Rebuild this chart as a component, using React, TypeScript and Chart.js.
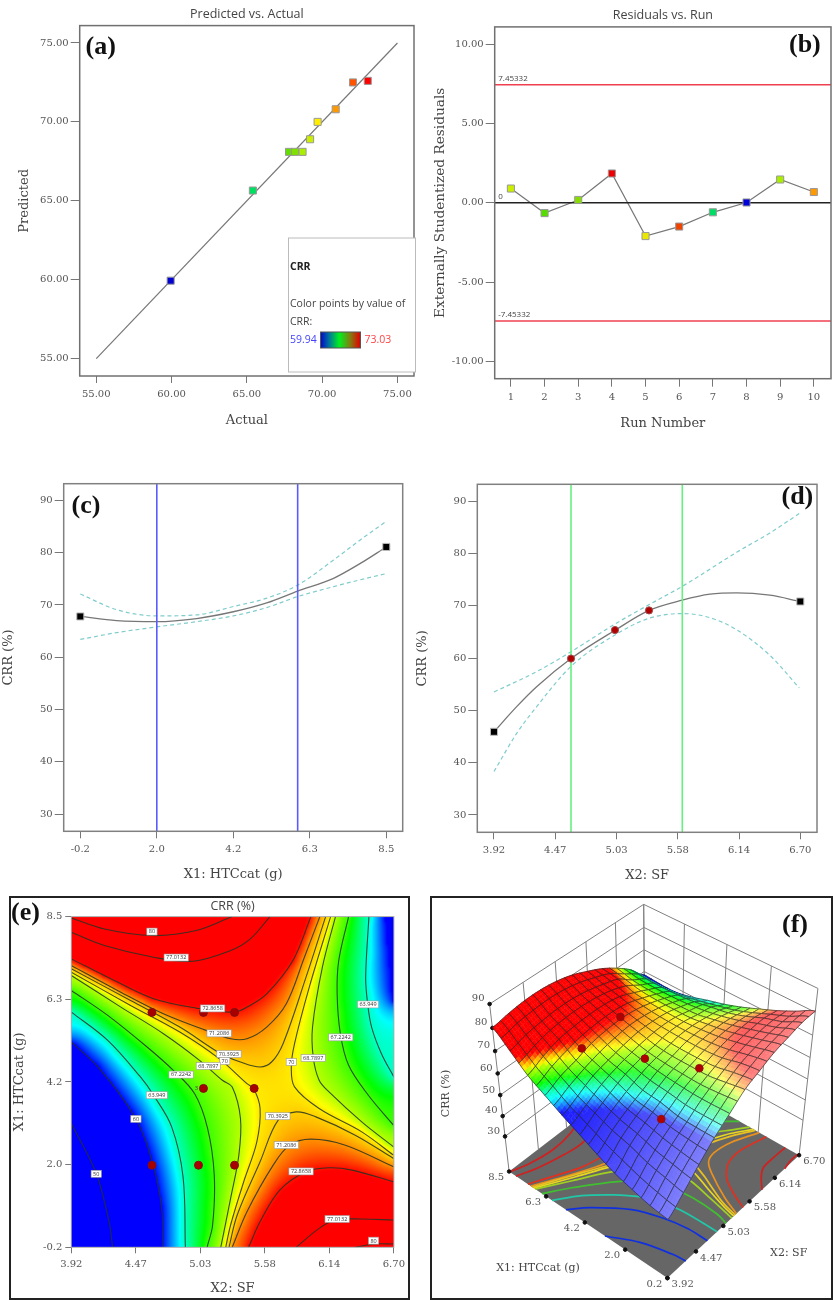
import React, { useEffect, useRef } from "react";
import { Chart, registerables } from "chart.js";
Chart.register(...registerables);

// ---------- data ----------
const actual = [59.94, 65.4, 67.8, 68.2, 68.7, 69.2, 69.7, 70.9, 72.05, 73.03];
const predicted = [59.94, 65.65, 68.1, 68.1, 68.1, 68.9, 70.0, 70.8, 72.5, 72.6];
const actualColors = ["#0000d0", "#00e060", "#66dd00", "#80e000", "#aaee00", "#ccee00", "#ffee00", "#ff9900", "#ff5500", "#ff0000"];
const parityLine = [55, 75];
const parityTicks = [55, 60, 65, 70, 75];

const runs = [1, 2, 3, 4, 5, 6, 7, 8, 9, 10];
const residuals = [0.9, -0.65, 0.18, 1.85, -2.1, -1.5, -0.6, 0.02, 1.47, 0.68];
const residualColors = ["#ccee00", "#55dd00", "#88dd00", "#ee0000", "#e8e800", "#ee4400", "#00dd66", "#0000d8", "#aaee00", "#ff9900"];
const residualTicks = [-10, -5, 0, 5, 10];
const residualLimit = 7.45332;

const x1Ticks = [-0.2, 1.975, 4.15, 6.325, 8.5];
const x1Labels = ["-0.2", "2.0", "4.2", "6.3", "8.5"];
const x2Ticks = [3.92, 4.476, 5.032, 5.588, 6.144, 6.7];
const x2Labels = ["3.92", "4.47", "5.03", "5.58", "6.14", "6.70"];
const crrTicks = [30, 40, 50, 60, 70, 80, 90];

const cX = [-0.2, 0.83, 1.97, 3.11, 4.15, 5.1, 5.98, 7.0, 7.75, 8.5];
const cMean = [67.8, 67.0, 66.8, 67.4, 68.7, 70.4, 72.65, 75.1, 77.9, 81.1];
const cUpper = [72.1, 69.1, 67.9, 68.1, 69.7, 71.3, 73.8, 78.6, 82.4, 86.0];
const cLower = [63.4, 64.7, 65.8, 66.8, 67.9, 69.5, 71.6, 73.5, 74.8, 76.0];
const cBounds = [1.975, 5.98];

const dMeanX = [3.92, 4.126, 4.307, 4.619, 5.018, 5.327, 5.629, 5.88, 6.122, 6.424, 6.7];
const dMean = [45.9, 50.7, 54.5, 59.9, 65.3, 69.1, 71.06, 72.2, 72.46, 72.0, 70.8];
const dUpperX = [3.92, 4.307, 4.619, 5.018, 5.327, 5.629, 6.122, 6.424, 6.69];
const dUpper = [53.5, 57.4, 61.2, 66.5, 70.2, 73.7, 80.2, 83.9, 87.6];
const dLowerX = [3.92, 4.126, 4.307, 4.619, 5.018, 5.327, 5.629, 5.88, 6.122, 6.424, 6.69];
const dLower = [38.3, 45.6, 50.7, 58.4, 64.4, 67.6, 68.5, 67.7, 65.4, 60.5, 54.3];
const dBounds = [4.619, 5.629];
const dPointsX = [4.619, 5.018, 5.327];
const dPointsY = [59.9, 65.35, 69.1];

// CRR height of the surface: rows from X1 = 8.5 down to -0.2, columns from X2 = 3.92 to 6.70
const crrGrid = [
  [80.1, 81.5, 82.4, 82.5, 81.7, 80, 77.3, 74.2, 70.1, 65.1, 58.5],
  [74.3, 76.4, 77.5, 78.2, 78.1, 77.1, 75.4, 73.2, 68.5, 64.6, 58],
  [68, 71.2, 73.7, 74.7, 75.1, 74.9, 73.7, 71, 67.9, 64.5, 58],
  [63.5, 66.8, 68.8, 71.2, 72.25, 72.65, 71.9, 70.2, 67.8, 64.8, 59.5],
  [59.1, 62.5, 66.2, 68.1, 69.7, 70.8, 70.75, 69.9, 68, 65.6, 61.8],
  [55.1, 59.4, 63.1, 66.2, 68, 69.15, 70.25, 69.9, 68.4, 67.1, 63.9],
  [51, 56.3, 60.4, 63.6, 66.9, 68.45, 70.15, 70.45, 70, 68.5, 66.5],
  [47.3, 54.2, 58.9, 62.8, 66.2, 68.45, 70.35, 71.45, 71.65, 70.95, 69.6],
  [44.8, 51.3, 56.9, 61.2, 65.7, 68.6, 71.2, 73.1, 73.9, 74.1, 72.8],
  [42.6, 49.5, 55.6, 60.9, 65.8, 69.9, 73.2, 75.1, 76.3, 76.6, 76.5],
  [41.5, 47.8, 54.7, 61, 66.2, 71.3, 74.3, 77.1, 78.7, 80.2, 80.5],
];

// contour lines: one level, one X2 list and one X1 list per line
const contourLevel = [50, 60, 63.949, 67.2242, 68.7897, 70, 70, 70.3925, 70.3925, 71.2086, 71.2086, 72.8658, 72.8658, 77.0132, 77.0132, 80, 80, 67.2242, 68.7897, 63.949];
const contourX2 = [
  [3.92, 4.135, 4.248, 4.276],
  [3.92, 4.149, 4.477, 4.629, 4.7, 4.705],
  [3.92, 4.234, 4.516, 4.629, 4.785, 4.883, 4.903],
  [3.92, 4.234, 4.573, 4.799, 4.982, 5.095, 5.152, 5.138, 5.09],
  [3.92, 4.347, 4.714, 5.025, 5.222, 5.307, 5.378, 5.364, 5.293, 5.208],
  [3.92, 4.431, 4.855, 5.194, 5.434, 5.491, 5.547, 5.519, 5.406, 5.293, 5.251],
  [6.155, 5.971, 5.844, 5.816, 5.844, 6.056, 6.423, 6.697],
  [3.92, 4.431, 4.855, 5.208, 5.378, 5.547, 5.646, 5.745, 5.943, 6.112],
  [6.697, 6.367, 6.028, 5.858, 5.703, 5.547, 5.35, 5.279],
  [3.92, 4.318, 4.714, 5.081, 5.293, 5.434, 5.604, 5.773, 5.929, 6.062],
  [6.697, 6.282, 5.985, 5.802, 5.66, 5.434, 5.307],
  [3.92, 4.29, 4.629, 4.996, 5.321, 5.434, 5.604, 5.83, 5.985],
  [6.697, 6.338, 6.141, 5.943, 5.717, 5.547, 5.448],
  [3.92, 4.205, 4.629, 4.968, 5.293, 5.463, 5.632],
  [5.858, 6.056, 6.197, 6.423, 6.697],
  [3.92, 4.205, 4.615, 4.996, 5.307],
  [6.367, 6.536, 6.697],
  [6.31, 6.225, 6.211, 6.239, 6.31, 6.48, 6.697],
  [6.197, 6.084, 5.999, 6.005, 6.056, 6.141, 6.423, 6.697],
  [6.485, 6.457, 6.474, 6.508, 6.593, 6.7],
];
const contourX1 = [
  [3.056, 1.743, 0.43, -0.2],
  [5.2, 4.544, 3.178, 1.918, 0.78, -0.2],
  [5.988, 5.244, 4.281, 3.8, 2.968, 1.656, -0.2],
  [6.557, 5.901, 5.069, 4.456, 3.844, 2.925, 1.699, 0.387, -0.2],
  [6.951, 6.119, 5.419, 4.719, 4.194, 4.019, 3.187, 2.224, 1.087, -0.2],
  [7.038, 6.163, 5.463, 4.763, 4.106, 3.975, 3.45, 2.575, 1.524, 0.387, -0.2],
  [8.5, 6.645, 5.157, 4.544, 4.019, 3.45, 2.837, 2.224],
  [7.126, 6.294, 5.594, 4.894, 4.675, 4.544, 4.675, 5.157, 6.907, 8.5],
  [2.137, 2.75, 3.231, 3.362, 3.144, 2.049, 0.649, -0.2],
  [7.213, 6.557, 5.944, 5.507, 5.288, 5.288, 5.594, 6.207, 7.432, 8.5],
  [1.918, 2.487, 2.645, 2.487, 1.962, 0.737, -0.2],
  [7.388, 6.819, 6.338, 6.093, 5.988, 6.119, 6.469, 7.345, 8.5],
  [1.524, 1.831, 1.892, 1.787, 1.306, 0.474, -0.2],
  [8.089, 7.739, 7.432, 7.327, 7.607, 7.914, 8.5],
  [-0.2, 0.299, 0.518, 0.544, 0.518],
  [8.465, 8.176, 8.001, 8.132, 8.5],
  [-0.2, -0.112, -0.112],
  [8.5, 7.345, 6.469, 5.419, 4.588, 3.8, 3.012],
  [8.5, 7.17, 5.594, 4.806, 4.194, 3.887, 3.1, 2.443],
  [8.5, 6.907, 6.207, 5.594, 4.894, 4.281],
];
// edge of the blue band at the upper right of panel (e): a colour guide without a drawn line
const guideLevel = [59.9];
const guideX2 = [[6.635, 6.663, 6.697]];
const guideX1 = [[8.5, 7.607, 6.294]];
const floorLevels = [50, 60, 63.949, 67.2242, 68.7897, 70, 70.3925, 71.2086, 72.8658, 77.0132, 80];
const floorLineColors = ["#1030e0", "#1030e0", "#20c8a8", "#40c030", "#a0d020", "#e8d820", "#e8c020", "#e89020", "#e03020", "#d02020", "#d02020"];
const contourLabelText = ["80", "77.0132", "72.8658", "71.2086", "70.3925", "70", "68.7897", "67.2242", "63.949", "60", "50", "63.949", "67.2242", "68.7897", "70", "70.3925", "71.2086", "72.8658", "77.0132", "80"];
const contourLabelX2 = [4.615, 4.824, 5.138, 5.194, 5.279, 5.242, 5.101, 4.866, 4.657, 4.477, 4.135, 6.477, 6.242, 6.005, 5.816, 5.7, 5.773, 5.9, 6.211, 6.525];
const contourLabelX1 = [8.106, 7.423, 6.084, 5.428, 4.885, 4.701, 4.57, 4.343, 3.8, 3.178, 1.734, 6.189, 5.323, 4.78, 4.675, 3.248, 2.487, 1.796, 0.544, -0.025];
const designX2 = [4.615, 5.059, 5.327, 5.059, 5.496, 4.615, 5.016, 5.327];
const designX1 = [5.98, 5.98, 5.98, 3.98, 3.98, 1.96, 1.96, 1.96];

const surfacePointsX2 = [4.62, 5.33, 5.06, 4.62, 5.33];
const surfacePointsX1 = [2, 2, 4, 6, 6];
const surfacePointsZ = [59.94, 69.1, 68.3, 70.9, 72.5];
const surfaceX1Labels = ["0.2", "2.0", "4.2", "6.3", "8.5"];

// ---------- helpers ----------
const SERIF = '"DejaVu Serif"';
const SANS = '"Open Sans"';
const TEXT = "#555";

const colorStops: [number, number[]][] = [
  [59.94, [0, 0, 255]],
  [63.21, [0, 255, 255]],
  [66.48, [0, 255, 0]],
  [69.76, [255, 255, 0]],
  [73.03, [255, 0, 0]],
];
function crrColor(z: number) {
  if (z <= colorStops[0][0]) return colorStops[0][1];
  for (let i = 1; i < colorStops.length; i++) {
    if (z <= colorStops[i][0]) {
      const [a, ca] = colorStops[i - 1];
      const [b, cb] = colorStops[i];
      const t = (z - a) / (b - a);
      return ca.map((c, k) => c + (cb[k] - c) * t);
    }
  }
  return colorStops[colorStops.length - 1][1];
}
const cr = (a: number, b: number, c: number, d: number, t: number) =>
  b + 0.5 * t * (c - a + t * (2 * a - 5 * b + 4 * c - d + t * (3 * (b - c) + d - a)));
function crrAt(x2: number, x1: number) {
  const n = crrGrid.length - 1;
  const cf = Math.min(n - 1e-6, Math.max(0, ((x2 - 3.92) / 2.78) * n));
  const rf = Math.min(n - 1e-6, Math.max(0, ((8.5 - x1) / 8.7) * n));
  const c0 = Math.floor(cf), r0 = Math.floor(rf);
  const cl = (v: number) => Math.max(0, Math.min(n, v));
  const rows = [-1, 0, 1, 2].map((dr) => {
    const row = crrGrid[cl(r0 + dr)];
    return cr(row[cl(c0 - 1)], row[c0], row[c0 + 1], row[cl(c0 + 2)], cf - c0);
  });
  return cr(rows[0], rows[1], rows[2], rows[3], rf - r0);
}
const RN = 160;
let pinned: Float64Array | null = null;
function pinnedField() {
  if (pinned) return pinned;
  const n = RN + 1;
  const f = new Float64Array(n * n);
  const fixed = new Uint8Array(n * n);
  for (let j = 0; j < n; j++) for (let i = 0; i < n; i++) f[j * n + i] = crrAt(3.92 + (2.78 * i) / RN, -0.2 + (8.7 * j) / RN);
  [...contourLevel, ...guideLevel].forEach((level, k) => {
    const xs = k < contourX2.length ? contourX2[k] : guideX2[k - contourX2.length];
    const ys = k < contourX1.length ? contourX1[k] : guideX1[k - contourX1.length];
    for (let s = 0; s + 1 < xs.length; s++) {
      const ax = ((xs[s] - 3.92) / 2.78) * RN, ay = ((ys[s] + 0.2) / 8.7) * RN;
      const bx = ((xs[s + 1] - 3.92) / 2.78) * RN, by = ((ys[s + 1] + 0.2) / 8.7) * RN;
      const steps = Math.ceil(Math.max(Math.abs(bx - ax), Math.abs(by - ay)) * 2) + 1;
      for (let t = 0; t <= steps; t++) {
        const i = Math.round(ax + ((bx - ax) * t) / steps), j = Math.round(ay + ((by - ay) * t) / steps);
        if (i >= 0 && i < n && j >= 0 && j < n) {
          f[j * n + i] = level;
          fixed[j * n + i] = 1;
        }
      }
    }
  });
  for (let it = 0; it < 300; it++) {
    for (let j = 0; j < n; j++) {
      for (let i = 0; i < n; i++) {
        const k = j * n + i;
        if (fixed[k]) continue;
        const l = f[j * n + Math.max(0, i - 1)], r = f[j * n + Math.min(RN, i + 1)];
        const d = f[Math.max(0, j - 1) * n + i], u = f[Math.min(RN, j + 1) * n + i];
        f[k] += 1.7 * ((l + r + d + u) / 4 - f[k]);
      }
    }
  }
  pinned = f;
  return f;
}
function pinnedAt(x2: number, x1: number) {
  const f = pinnedField();
  const n = RN + 1;
  const a = Math.min(RN - 1e-6, Math.max(0, ((x2 - 3.92) / 2.78) * RN));
  const b = Math.min(RN - 1e-6, Math.max(0, ((x1 + 0.2) / 8.7) * RN));
  const i = Math.floor(a), j = Math.floor(b), s = a - i, t = b - j;
  return (
    (f[j * n + i] * (1 - s) + f[j * n + i + 1] * s) * (1 - t) +
    (f[(j + 1) * n + i] * (1 - s) + f[(j + 1) * n + i + 1] * s) * t
  );
}
const zip = (xs: number[], ys: number[]) => xs.map((x, i) => ({ x, y: ys[i] }));

function text(ctx: any, s: string, x: number, y: number, font: string, color: string, align = "left", baseline = "alphabetic") {
  ctx.save();
  ctx.font = font;
  ctx.fillStyle = color;
  ctx.textAlign = align;
  ctx.textBaseline = baseline;
  ctx.fillText(s, x, y);
  ctx.restore();
}
const letter = (ctx: any, s: string, x: number, y: number) => text(ctx, s, x, y, 'bold 26px "Liberation Serif"', "#111");
function frame(chart: any, color: string, lw = 1.5) {
  const { ctx, chartArea: a } = chart;
  ctx.save();
  ctx.strokeStyle = color;
  ctx.lineWidth = lw;
  ctx.strokeRect(a.left, a.top, a.right - a.left, a.bottom - a.top);
  ctx.restore();
}
function axis(horizontal: boolean, o: any) {
  return {
    type: "linear",
    min: o.min,
    max: o.max,
    afterFit: (s: any) => {
      if (horizontal) s.height = o.size;
      else s.width = o.size;
    },
    afterBuildTicks: (s: any) => {
      s.ticks = o.ticks.map((value: number) => ({ value }));
    },
    ticks: {
      autoSkip: false,
      maxRotation: 0,
      minRotation: 0,
      padding: o.pad ?? (horizontal ? 5 : 2),
      color: TEXT,
      font: { family: SERIF, size: 10 },
      callback: (_v: number, i: number) => o.labels[i],
    },
    grid: { drawOnChartArea: false, color: "#777", tickLength: o.tick ?? (horizontal ? 7 : 9), lineWidth: 1 },
    border: { display: false },
    title: {
      display: true,
      text: o.title,
      color: "#444",
      font: { family: SERIF, size: o.titleSize ?? 13 },
      padding: horizontal ? { top: 0, bottom: o.titlePad } : { top: o.titlePad, bottom: 0 },
    },
  };
}
const base = (extra: any) => ({
  responsive: false,
  animation: false,
  events: [],
  ...extra,
  plugins: { legend: { display: false }, tooltip: { enabled: false }, ...(extra.plugins || {}) },
});
const curve = (data: any[], color: string, lw: number, dash: number[] = [], tension = -1) => ({
  type: "scatter",
  data,
  showLine: true,
  borderColor: color,
  borderWidth: lw,
  borderDash: dash,
  pointRadius: 0,
  tension: tension < 0 ? 0.4 : tension,
  cubicInterpolationMode: tension < 0 ? "monotone" : "default",
  order: 2,
});
const marks = (data: any[], color: any, style: string, radius: number, border: any = "#999") => ({
  type: "scatter",
  data,
  showLine: false,
  pointStyle: style,
  pointRadius: radius,
  backgroundColor: color,
  borderColor: border,
  borderWidth: 1,
  order: 1,
});
const topTitle = (s: string, top: number, bottom: number) => ({
  display: true,
  text: s,
  color: "#444",
  fullSize: false,
  font: { family: SANS, size: 12.5, weight: "normal", lineHeight: 1.2 },
  padding: { top, bottom },
});

// ---------- panels ----------
function configA(H: number, W: number) {
  const overlay = {
    id: "overlay",
    afterDraw(chart: any) {
      const { ctx } = chart;
      frame(chart, "#707070");
      ctx.save();
      ctx.fillStyle = "#fff";
      ctx.strokeStyle = "#bbb";
      ctx.fillRect(288.5, 238, 127, 134);
      ctx.strokeRect(288.5, 238, 127, 134);
      const g = ctx.createLinearGradient(320, 0, 360, 0);
      g.addColorStop(0, "#0000d0");
      g.addColorStop(0.22, "#0070a0");
      g.addColorStop(0.48, "#00f020");
      g.addColorStop(0.75, "#808010");
      g.addColorStop(1, "#e00000");
      ctx.fillStyle = g;
      ctx.fillRect(320.5, 332, 40, 16);
      ctx.strokeStyle = "#555";
      ctx.strokeRect(320.5, 332, 40, 16);
      ctx.restore();
      text(ctx, "CRR", 290, 270, `bold 10.5px ${SANS}`, "#222");
      text(ctx, "Color points by value of", 290, 306.5, `10.5px ${SANS}`, "#444");
      text(ctx, "CRR:", 290, 325, `10.5px ${SANS}`, "#444");
      text(ctx, "59.94", 290, 343, `10.5px ${SANS}`, "#4444ff");
      text(ctx, "73.03", 364.5, 343, `10.5px ${SANS}`, "#ff4444");
      letter(ctx, "(a)", 85.5, 54);
    },
  };
  const fmt = parityTicks.map((v) => v.toFixed(2));
  return {
    data: {
      datasets: [
        curve(zip(parityLine, parityLine), "#777", 1.2, [], 0),
        marks(zip(actual, predicted), actualColors, "rect", 5),
      ],
    },
    options: base({
      layout: { padding: { right: W - 417, top: 0, left: 0, bottom: 0 } },
      plugins: { title: topTitle("Predicted vs. Actual", 7, 3.6) },
      scales: {
        x: axis(true, { min: 53.9, max: 76.1, size: H - 376, ticks: parityTicks, labels: fmt, title: "Actual", titlePad: 11.5 }),
        y: axis(false, { min: 53.9, max: 76.1, size: 79.7, ticks: parityTicks, labels: fmt, title: "Predicted", titlePad: 17.2 }),
      },
    }),
    plugins: [overlay],
  };
}
function configB(H: number, W: number) {
  const overlay = {
    id: "overlay",
    afterDraw(chart: any) {
      const { ctx, chartArea: a, scales } = chart;
      frame(chart, "#707070");
      const small = `8px ${SANS}`;
      text(ctx, residualLimit.toFixed(5), a.left + 3.5, scales.y.getPixelForValue(residualLimit) - 4, small, "#444");
      text(ctx, (-residualLimit).toFixed(5), a.left + 3.5, scales.y.getPixelForValue(-residualLimit) - 4, small, "#444");
      text(ctx, "0", a.left + 3.5, scales.y.getPixelForValue(0) - 4, small, "#444");
      letter(ctx, "(b)", 369, 51.5);
    },
  };
  const xs = [0.519, 10.51];
  return {
    data: {
      datasets: [
        curve(zip(xs, [residualLimit, residualLimit]), "#f04050", 1.5, [], 0),
        curve(zip(xs, [-residualLimit, -residualLimit]), "#f04050", 1.5, [], 0),
        curve(zip(xs, [0, 0]), "#222", 1.5, [], 0),
        curve(zip(runs, residuals), "#777", 1.2, [], 0),
        marks(zip(runs, residuals), residualColors, "rect", 5),
      ],
    },
    options: base({
      layout: { padding: { right: W - 413.3, top: 0, left: 0, bottom: 0 } },
      plugins: { title: topTitle("Residuals vs. Run", 8, 3.9) },
      scales: {
        x: axis(true, { min: 0.519, max: 10.51, size: H - 378.7, ticks: runs, labels: runs.map(String), title: "Run Number", titlePad: 8.2, tick: 8 }),
        y: axis(false, { min: -11.1, max: 11.1, size: 74.7, ticks: residualTicks, labels: residualTicks.map((v) => v.toFixed(2)), title: "Externally Studentized Residuals", titlePad: 12.2, titleSize: 13.7 }),
      },
    }),
    plugins: [overlay],
  };
}
function profileConfig(o: any) {
  const overlay = {
    id: "overlay",
    afterDraw(chart: any) {
      frame(chart, "#808080");
      letter(chart.ctx, o.letter, o.lx, o.ly);
    },
  };
  return {
    data: { datasets: o.datasets },
    options: base({
      layout: { padding: { right: o.W - o.R, top: o.T, left: 0, bottom: 0 } },
      scales: {
        x: axis(true, { min: o.xMin, max: o.xMax, size: o.H - o.B, ticks: o.xTicks, labels: o.xLabels, title: o.xTitle, titlePad: o.xPad }),
        y: axis(false, { min: 26.69, max: 93.2, size: o.L, ticks: crrTicks, labels: crrTicks.map(String), title: "CRR (%)", titlePad: o.yPad }),
      },
    }),
    plugins: [overlay],
  };
}
function configC(H: number, W: number) {
  const yr = [26.69, 93.2];
  return profileConfig({
    H, W, L: 63.7, R: 402.7, T: 13.7, B: 361.3, xMin: -0.672, xMax: 8.966, xTicks: x1Ticks, xLabels: x1Labels,
    xTitle: "X1: HTCcat (g)", xPad: 7.2, yPad: 1.2, letter: "(c)", lx: 71.5, ly: 43,
    datasets: [
      curve(zip([cBounds[0], cBounds[0]], yr), "#5a5aff", 1.6, [], 0),
      curve(zip([cBounds[1], cBounds[1]], yr), "#5a5aff", 1.6, [], 0),
      curve(zip(cX, cUpper), "#80cccc", 1.2, [4, 3]),
      curve(zip(cX, cLower), "#80cccc", 1.2, [4, 3]),
      curve(zip(cX, cMean), "#777", 1.3),
      marks(zip([cX[0], cX[cX.length - 1]], [cMean[0], cMean[cMean.length - 1]]), "#000", "rect", 5, "#bbb"),
    ],
  });
}
function configD(H: number, W: number) {
  const yr = [26.69, 93.2];
  return profileConfig({
    H, W, L: 67.3, R: 407, T: 14.3, B: 362.3, xMin: 3.7685, xMax: 6.8515, xTicks: x2Ticks, xLabels: x2Labels,
    xTitle: "X2: SF", xPad: 6.2, yPad: 5.2, letter: "(d)", lx: 371.5, ly: 34,
    datasets: [
      curve(zip([dBounds[0], dBounds[0]], yr), "#66f080", 1.6, [], 0),
      curve(zip([dBounds[1], dBounds[1]], yr), "#66f080", 1.6, [], 0),
      curve(zip(dUpperX, dUpper), "#80cccc", 1.2, [4, 3]),
      curve(zip(dLowerX, dLower), "#80cccc", 1.2, [4, 3]),
      curve(zip(dMeanX, dMean), "#777", 1.3),
      marks(zip([dMeanX[0], dMeanX[dMeanX.length - 1]], [dMean[0], dMean[dMean.length - 1]]), "#000", "rect", 5, "#bbb"),
      marks(zip(dPointsX, dPointsY), "#b00000", "circle", 3.6, "#a05050"),
    ],
  });
}
function configE(H: number, W: number) {
  let heat: any = null;
  const surface = {
    id: "heat",
    beforeDatasetsDraw(chart: any) {
      const { ctx, chartArea: a, scales } = chart;
      const w = Math.round(a.right - a.left), h = Math.round(a.bottom - a.top);
      if (!heat) {
        heat = document.createElement("canvas");
        heat.width = w;
        heat.height = h;
        const hc = heat.getContext("2d");
        const img = hc.createImageData(w, h);
        for (let j = 0; j < h; j++) {
          for (let i = 0; i < w; i++) {
            const c = crrColor(pinnedAt(scales.x.getValueForPixel(a.left + i + 0.5), scales.y.getValueForPixel(a.top + j + 0.5)));
            const k = 4 * (j * w + i);
            img.data[k] = c[0];
            img.data[k + 1] = c[1];
            img.data[k + 2] = c[2];
            img.data[k + 3] = 255;
          }
        }
        hc.putImageData(img, 0, 0);
      }
      ctx.drawImage(heat, a.left, a.top, a.right - a.left, a.bottom - a.top);
    },
    afterDatasetsDraw(chart: any) {
      const { ctx, scales } = chart;
      const font = `5.5px ${SANS}`;
      contourLabelText.forEach((s, i) => {
        const x = scales.x.getPixelForValue(contourLabelX2[i]);
        const y = scales.y.getPixelForValue(contourLabelX1[i]);
        ctx.save();
        ctx.font = font;
        const tw = ctx.measureText(s).width + 4;
        ctx.fillStyle = "#fff";
        ctx.strokeStyle = "#999";
        ctx.lineWidth = 0.6;
        ctx.fillRect(x - tw / 2, y - 3.5, tw, 7);
        ctx.strokeRect(x - tw / 2, y - 3.5, tw, 7);
        ctx.restore();
        text(ctx, s, x, y + 0.3, font, "#333", "center", "middle");
      });
      text(ctx, "3", scales.x.getPixelForValue(5.059) - 7, scales.y.getPixelForValue(3.98), `6px ${SANS}`, "#444", "center", "middle");
    },
    afterDraw(chart: any) {
      const { ctx } = chart;
      frame(chart, "#aaa", 1);
      ctx.save();
      ctx.strokeStyle = "#222";
      ctx.lineWidth = 2;
      ctx.strokeRect(1, 1, W - 2, H - 2);
      ctx.restore();
      letter(ctx, "(e)", 2, 24);
    },
  };
  return {
    data: {
      datasets: [
        ...contourLevel.map((_l, k) => curve(zip(contourX2[k], contourX1[k]), "rgba(35,50,35,0.85)", 1.1, [], 0.35)),
        marks(zip(designX2, designX1), "#a80000", "circle", 4, "#801010"),
      ],
    },
    options: base({
      layout: { padding: { right: W - 390.3, top: 0, left: 0, bottom: 0 } },
      plugins: { title: topTitle("CRR (%)", 2.5, 3.1) },
      scales: {
        x: axis(true, { min: 3.92, max: 6.7, size: H - 351.3, ticks: x2Ticks, labels: x2Labels, title: "X2: SF", titlePad: 3.2, tick: 6, pad: 5 }),
        y: axis(false, { min: -0.2, max: 8.5, size: 62.3, ticks: x1Ticks, labels: x1Labels, title: "X1: HTCcat (g)", titlePad: 2.5, tick: 6, pad: 3 }),
      },
    }),
    plugins: [surface],
  };
}

// view of the 3D box, expressed in the hidden x/y scales of panel (f)
const FLOOR_Z = 12;
function project(x2: number, x1: number, z: number) {
  const u = (x2 - 3.92) / 2.78, v = (x1 + 0.2) / 8.7, w = (z - FLOOR_Z) / 78;
  const d = 1 + 0.1074 * u + 0.0911 * v - 0.12842 * w;
  return { x: (745 + 528.5 * u - 463.5 * v - 90.9 * w) / d, y: (1178 - 292.1 * u - 250.6 * v - 605 * w) / d };
}
function configF(H: number, W: number) {
  const gap = { x: NaN, y: NaN };
  const walls: any[] = [];
  const seg = (a: any, b: any) => walls.push(a, b, gap);
  x2Ticks.forEach((t) => seg(project(t, 8.5, FLOOR_Z), project(t, 8.5, 90)));
  x1Ticks.forEach((t) => seg(project(6.7, t, FLOOR_Z), project(6.7, t, 90)));
  crrTicks.forEach((z) => {
    seg(project(3.92, 8.5, z), project(6.7, 8.5, z));
    seg(project(6.7, 8.5, z), project(6.7, -0.2, z));
  });
  const dots = [
    ...crrTicks.map((z) => project(3.92, 8.5, z)),
    ...x1Ticks.map((t) => project(3.92, t, FLOOR_Z)),
    ...x2Ticks.map((t) => project(t, -0.2, FLOOR_Z)),
  ];
  const floorLines = contourLevel.map((l, k) => ({
    ...curve(contourX2[k].map((x, i) => project(x, contourX1[k][i], FLOOR_Z)), floorLineColors[floorLevels.indexOf(l)], 1.7, [], 0.35),
    order: 3,
  }));
  const pts = surfacePointsX2.map((x, i) => project(x, surfacePointsX1[i], surfacePointsZ[i]));
  const pointsDs = marks(pts, "#b00000", "circle", 3.8, "#901010");

  const plugin = {
    id: "box",
    beforeDatasetsDraw(chart: any) {
      const { ctx, scales } = chart;
      const P = (p: any) => [scales.x.getPixelForValue(p.x), scales.y.getPixelForValue(p.y)];
      ctx.save();
      ctx.fillStyle = "#666";
      ctx.beginPath();
      [project(3.92, -0.2, FLOOR_Z), project(3.92, 8.5, FLOOR_Z), project(6.7, 8.5, FLOOR_Z), project(6.7, -0.2, FLOOR_Z)].forEach((p, i) => {
        const [x, y] = P(p);
        if (i) ctx.lineTo(x, y);
        else ctx.moveTo(x, y);
      });
      ctx.closePath();
      ctx.fill();
      ctx.restore();
    },
    beforeDatasetDraw(chart: any, args: any) {
      if (chart.data.datasets[args.index] !== pointsDs) return;
      const { ctx, scales } = chart;
      const P = (x2: number, x1: number) => {
        const p = project(x2, x1, crrAt(x2, x1));
        return [scales.x.getPixelForValue(p.x), scales.y.getPixelForValue(p.y)];
      };
      const cells = 20, sub = 3, N = cells * sub;
      const X = (i: number) => 3.92 + (2.78 * i) / N;
      const Y = (j: number) => -0.2 + (8.7 * j) / N;
      ctx.save();
      ctx.lineJoin = "round";
      for (let ci = cells - 1; ci >= 0; ci--) {
        for (let cj = cells - 1; cj >= 0; cj--) {
          for (let si = sub - 1; si >= 0; si--) {
            for (let sj = sub - 1; sj >= 0; sj--) {
              const i = ci * sub + si, j = cj * sub + sj;
              const a = P(X(i), Y(j)), b = P(X(i + 1), Y(j)), c = P(X(i + 1), Y(j + 1)), d = P(X(i), Y(j + 1));
              const col = crrColor(pinnedAt(X(i + 0.5), Y(j + 0.5)));
              const v = (j + 0.5) / N;
              const mix = 0.5 * Math.max(0, 1 - v * 1.3);
              const rgb = col.map((q) => Math.round(q + (255 - q) * mix));
              const fill = `rgb(${rgb[0]},${rgb[1]},${rgb[2]})`;
              ctx.beginPath();
              ctx.moveTo(a[0], a[1]);
              ctx.lineTo(b[0], b[1]);
              ctx.lineTo(c[0], c[1]);
              ctx.lineTo(d[0], d[1]);
              ctx.closePath();
              ctx.fillStyle = fill;
              ctx.strokeStyle = fill;
              ctx.lineWidth = 0.5;
              ctx.fill();
              ctx.stroke();
            }
          }
          const i0 = ci * sub, j0 = cj * sub;
          ctx.beginPath();
          let first = true;
          const go = (i: number, j: number) => {
            const p = P(X(i), Y(j));
            if (first) ctx.moveTo(p[0], p[1]);
            else ctx.lineTo(p[0], p[1]);
            first = false;
          };
          for (let s = 0; s <= sub; s++) go(i0 + s, j0);
          for (let s = 1; s <= sub; s++) go(i0 + sub, j0 + s);
          for (let s = 1; s <= sub; s++) go(i0 + sub - s, j0 + sub);
          for (let s = 1; s <= sub; s++) go(i0, j0 + sub - s);
          ctx.strokeStyle = "rgba(35,35,35,0.72)";
          ctx.lineWidth = 0.9;
          ctx.stroke();
        }
      }
      ctx.restore();
    },
    afterDraw(chart: any) {
      const { ctx, scales } = chart;
      const sx = (v: number) => scales.x.getPixelForValue(v);
      const sy = (v: number) => scales.y.getPixelForValue(v);
      const font = `10px ${SERIF}`;
      crrTicks.forEach((z) => {
        const p = project(3.92, 8.5, z);
        text(ctx, String(z), sx(p.x - 35), sy(p.y - 16), font, TEXT, "center", "middle");
      });
      x1Ticks.forEach((t, i) => {
        const p = project(3.92, t, FLOOR_Z);
        text(ctx, surfaceX1Labels[i], sx(p.x - 40), sy(p.y + 18), font, TEXT, "center", "middle");
      });
      x2Ticks.forEach((t, i) => {
        const p = project(t, -0.2, FLOOR_Z);
        text(ctx, x2Labels[i], sx(p.x + 47), sy(p.y + 20), font, TEXT, "center", "middle");
      });
      const title = `11px ${SERIF}`;
      text(ctx, "X1: HTCcat (g)", sx(347), sy(1146), title, "#444", "center", "middle");
      text(ctx, "X2: SF", sx(1118), sy(1100), title, "#444", "center", "middle");
      ctx.save();
      ctx.translate(sx(63), sy(610));
      ctx.rotate(-Math.PI / 2);
      text(ctx, "CRR (%)", 0, 0, title, "#444", "center", "middle");
      ctx.restore();
      ctx.save();
      ctx.strokeStyle = "#222";
      ctx.lineWidth = 2;
      ctx.strokeRect(1, 1, W - 2, H - 2);
      ctx.restore();
      letter(ctx, "(f)", 352, 35.5);
    },
  };
  const hidden = (min: number, max: number, reverse = false) => ({ type: "linear", min, max, reverse, display: false });
  return {
    data: {
      datasets: [
        { ...curve(walls, "#808080", 1, [], 0), order: 4 },
        ...floorLines,
        { ...marks(dots, "#111", "circle", 1.8, "#111"), order: 2 },
        pointsDs,
      ],
    },
    options: base({
      layout: { padding: 0 },
      scales: { x: hidden(30, 1239), y: hidden(18, 1230, true) },
    }),
    plugins: [plugin],
  };
}

function Panel({ left, top, width, height, build }: any) {
  const ref = useRef<HTMLCanvasElement>(null);
  useEffect(() => {
    const cfg = build(height, width);
    const chart = new Chart(ref.current as any, { type: "scatter", ...cfg } as any);
    return () => chart.destroy();
  }, []);
  return (
    <canvas
      ref={ref}
      width={width}
      height={height}
      style={{ position: "absolute", left, top, width, height, filter: "blur(0.35px)" }}
    />
  );
}

export default function App() {
  return (
    <div style={{ position: "absolute", left: 0, top: 0, width: 837, height: 1300, background: "#fff", overflow: "hidden" }}>
      <Panel left={0} top={0} width={420} height={440} build={configA} />
      <Panel left={420} top={0} width={417} height={440} build={configB} />
      <Panel left={0} top={470} width={420} height={420} build={configC} />
      <Panel left={410} top={470} width={427} height={420} build={configD} />
      <Panel left={9} top={896} width={401} height={404} build={configE} />
      <Panel left={430} top={896} width={403} height={404} build={configF} />
    </div>
  );
}
